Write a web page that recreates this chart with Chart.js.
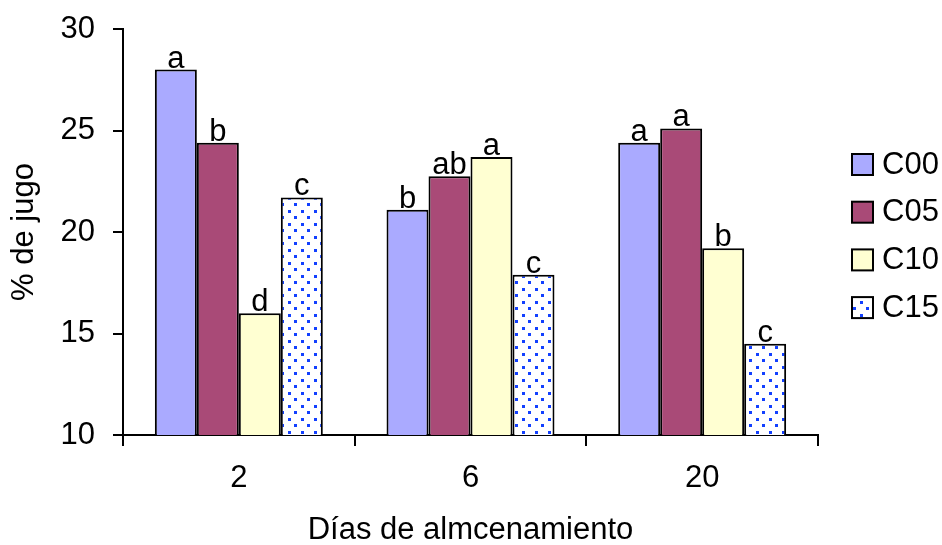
<!DOCTYPE html>
<html>
<head>
<meta charset="utf-8">
<script src="https://cdn.jsdelivr.net/npm/chart.js@4.4.0/dist/chart.umd.min.js"></script>
<style>
  body { margin: 0; background: #fff; }
  canvas { display: block; }
</style>
</head>
<body>
<canvas id="grafico" width="942" height="545"></canvas>
<script>
// datos
const dias = ['2', '6', '20'];
const series = ['C00', 'C05', 'C10', 'C15'];
const valC00 = [28.0, 21.1, 24.4];
const valC05 = [24.4, 22.75, 25.1];
const valC10 = [16.0, 23.7, 19.2];
const valC15 = [21.7, 17.9, 14.5];
const letrasC00 = ['a', 'b', 'a'];
const letrasC05 = ['b', 'ab', 'a'];
const letrasC10 = ['d', 'a', 'b'];
const letrasC15 = ['c', 'c', 'c'];
const yTicks = [10, 15, 20, 25, 30];

const FONT = 'Liberation Sans, Arial, sans-serif';
const canvas = document.getElementById('grafico');
const ctxMain = canvas.getContext('2d');

// patron de puntos azules para C15
function patronPuntos() {
    const c = document.createElement('canvas');
    c.width = 13; c.height = 13;
    const g = c.getContext('2d');
    g.fillStyle = '#ffffff';
    g.fillRect(0, 0, 13, 13);
    g.fillStyle = '#1240ff';
    g.fillRect(2, 2, 3, 3);
    g.fillRect(8, 8, 3, 3);
    return ctxMain.createPattern(c, 'repeat');
}
const puntos = patronPuntos();

function serie(label, data, fondo, letras) {
    return {
        label: label,
        data: data,
        letras: letras,
        backgroundColor: fondo,
        borderColor: '#000',
        borderWidth: 2,
        borderSkipped: false,
        barPercentage: 1.0,
        categoryPercentage: 0.725
    };
}

// letras encima de las barras
const letrasPlugin = {
    id: 'letras',
    afterDatasetsDraw(chart) {
        const ctx = chart.ctx;
        ctx.save();
        ctx.font = '31px ' + FONT;
        ctx.fillStyle = '#000';
        ctx.textAlign = 'center';
        ctx.textBaseline = 'alphabetic';
        chart.data.datasets.forEach((ds, i) => {
            chart.getDatasetMeta(i).data.forEach((bar, j) => {
                ctx.fillText(ds.letras[j], bar.x, bar.y - 2);
            });
        });
        ctx.restore();
    }
};

// leyenda a la derecha
const leyendaPlugin = {
    id: 'leyenda',
    afterDraw(chart) {
        const ctx = chart.ctx;
        ctx.save();
        ctx.font = '31px ' + FONT;
        ctx.textBaseline = 'middle';
        ctx.textAlign = 'left';
        chart.data.datasets.forEach((ds, i) => {
            const cy = 164 + i * 47.7;
            ctx.fillStyle = ds.backgroundColor;
            ctx.fillRect(852, cy - 10, 21, 21);
            ctx.lineWidth = 2;
            ctx.strokeStyle = '#000';
            ctx.strokeRect(852, cy - 10, 21, 21);
            ctx.fillStyle = '#000';
            ctx.fillText(ds.label, 882, cy + 1);
        });
        ctx.restore();
    }
};

new Chart(ctxMain, {
    type: 'bar',
    data: {
        labels: dias,
        datasets: [
            serie(series[0], valC00, '#aaaaff', letrasC00),
            serie(series[1], valC05, '#a94a77', letrasC05),
            serie(series[2], valC10, '#ffffd2', letrasC10),
            serie(series[3], valC15, puntos, letrasC15)
        ]
    },
    options: {
        responsive: false,
        animation: false,
        layout: { padding: { top: 29, right: 124, left: 0, bottom: 0 } },
        plugins: {
            legend: { display: false },
            tooltip: { enabled: false }
        },
        scales: {
            x: {
                afterFit: (s) => { s.height = 110; },
                grid: {
                    offset: true,
                    drawOnChartArea: false,
                    color: '#000',
                    lineWidth: 2,
                    tickLength: 11
                },
                border: { color: '#000', width: 2 },
                ticks: {
                    color: '#000',
                    font: { family: FONT, size: 31 },
                    padding: 14
                },
                title: {
                    display: true,
                    text: 'Días de almcenamiento',
                    color: '#000',
                    font: { family: FONT, size: 31 },
                    padding: { top: 0, bottom: -4 }
                }
            },
            y: {
                min: 10,
                max: 30,
                afterFit: (s) => {
                    s.width = 123;
                    s.paddingTop = 0;
                    s.paddingBottom = 0;
                },
                afterBuildTicks: (s) => { s.ticks = yTicks.map(v => ({ value: v })); },
                grid: {
                    drawOnChartArea: false,
                    color: '#000',
                    lineWidth: 2,
                    tickLength: 10
                },
                border: { color: '#000', width: 2 },
                ticks: {
                    color: '#000',
                    font: { family: FONT, size: 31 },
                    padding: 18
                },
                title: {
                    display: true,
                    text: '% de jugo',
                    color: '#000',
                    font: { family: FONT, size: 31 },
                    padding: { top: 6, bottom: 0 }
                }
            }
        }
    },
    plugins: [letrasPlugin, leyendaPlugin]
});
</script>
</body>
</html>
